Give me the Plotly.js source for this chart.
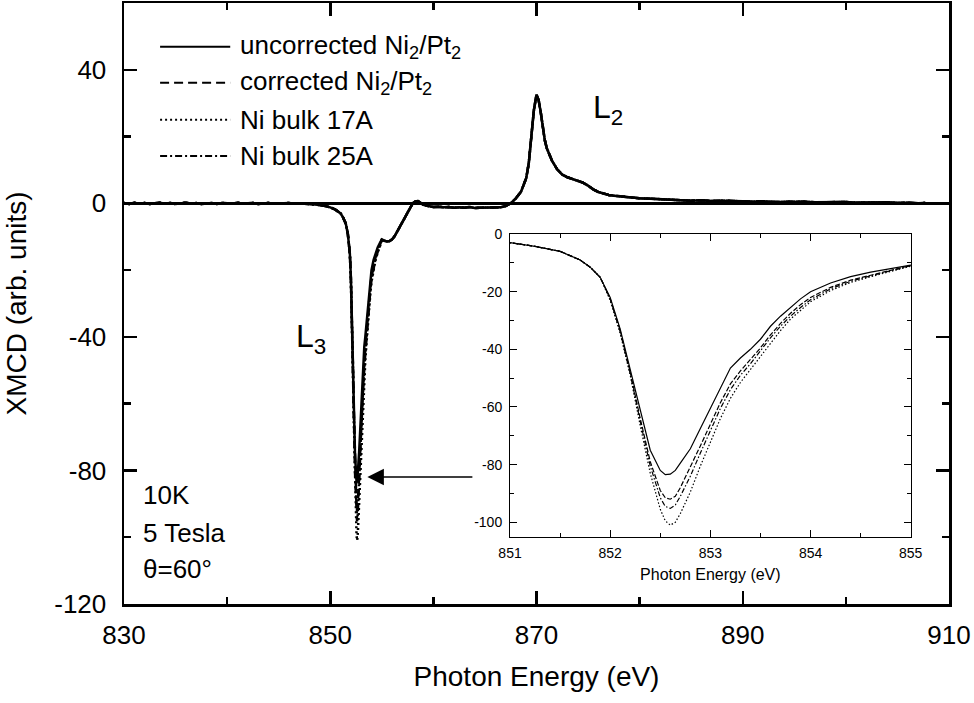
<!DOCTYPE html>
<html>
<head>
<meta charset="utf-8">
<script src="https://cdn.plot.ly/plotly-3.0.1.min.js"></script>
<style>
  html, body { margin: 0; padding: 0; background: #fff; }
  #chart { width: 974px; height: 703px; }
</style>
</head>
<body>
<div id="chart"></div>
<script>
// Ni L2,3 XMCD spectra (10 K, 5 T, theta = 60 deg)

// pre-edge region, common to all spectra
const energyPre = [830, 830.5, 831, 831.5, 832, 832.5, 833, 833.5, 834, 834.5, 835, 835.5,
  836, 836.5, 837, 837.5, 838, 838.5, 839, 839.5, 840, 840.5, 841, 841.5, 842, 842.5,
  843, 843.5, 844, 844.5, 845, 845.5, 846, 846.5, 847, 847.5, 848, 848.5, 849, 849.5,
  850, 850.5, 850.8];
const xmcdPre = [0.1, -0.2, 0.2, -0.1, 0.1, -0.2, 0.0, 0.2, -0.1, 0.1, -0.2, 0.0,
  0.2, -0.1, 0.1, -0.2, 0.0, 0.1, -0.2, 0.1, 0.0, -0.1, 0.2, -0.1, 0.0, 0.1,
  -0.2, 0.0, 0.1, -0.1, 0.0, -0.1, 0.1, -0.1, 0.0, -0.1, -0.2, -0.3, -0.5, -0.8,
  -1.2, -1.9, -2.5];

// L3 edge, where the four spectra differ
const energyL3 = [851.0, 851.25, 851.5, 851.7, 851.8, 851.9, 852.0, 852.1, 852.2, 852.3,
  852.4, 852.5, 852.55, 852.6, 852.65, 852.7, 852.8, 852.9, 853.0, 853.1, 853.2, 853.3,
  853.4, 853.5, 853.6, 853.7, 853.8, 853.9, 854.0, 854.2, 854.4, 854.6, 854.8, 855.0];
const uncorrectedL3 = [-3.0, -4.3, -6.0, -9.0, -11.5, -15.0, -22.0, -33.0, -47.0, -62.0,
  -75.0, -82.0, -83.5, -83.3, -82.0, -79.5, -74.5, -67.5, -60.5, -53.0, -46.5, -43.0,
  -40.0, -36.5, -32.0, -28.5, -25.5, -22.5, -20.0, -17.0, -14.8, -13.2, -12.0, -10.8];
const correctedL3 = [-3.0, -4.3, -6.0, -9.0, -11.5, -15.0, -22.5, -33.5, -48.0, -64.0,
  -79.0, -89.0, -91.5, -92.0, -91.0, -88.0, -81.0, -73.5, -66.0, -58.5, -52.0, -47.5,
  -43.5, -39.5, -35.0, -31.0, -27.5, -24.5, -22.0, -18.5, -16.0, -14.2, -12.6, -10.9];
const bulk17L3 = [-3.0, -4.3, -6.0, -9.0, -11.5, -15.0, -23.0, -34.5, -49.0, -66.5,
  -83.0, -95.5, -99.5, -101.0, -100.0, -97.0, -89.5, -80.5, -72.0, -64.0, -57.0, -51.5,
  -47.0, -42.5, -38.0, -33.5, -29.5, -26.5, -23.5, -19.6, -16.8, -14.8, -13.0, -11.2];
const bulk25L3 = [-3.0, -4.3, -6.0, -9.0, -11.5, -15.0, -22.5, -34.0, -48.5, -65.0,
  -80.5, -91.5, -94.5, -95.2, -94.0, -91.0, -84.0, -76.0, -68.0, -60.5, -54.0, -49.0,
  -45.0, -40.5, -36.0, -32.0, -28.5, -25.5, -22.8, -19.0, -16.4, -14.5, -12.8, -11.0];

// shoulder, L2 edge and post-edge, common to all spectra
const energyPost = [855.25, 855.5, 855.75, 856, 856.25, 856.5, 856.75, 857, 857.25, 857.5,
  857.75, 858, 858.25, 858.5, 858.75, 859, 859.5, 860, 860.5, 861, 861.5, 862, 862.5,
  863, 863.5, 864, 864.5, 865, 865.5, 866, 866.5, 867, 867.5, 868, 868.5, 869, 869.25,
  869.5, 869.75, 870, 870.2, 870.4, 870.6, 870.8, 871, 871.25, 871.5, 872, 872.5, 873,
  873.5, 874, 874.5, 875, 875.5, 876, 876.5, 877, 877.5, 878, 879, 880, 881, 882, 883,
  884, 885, 886, 887, 888, 889, 890, 891, 892, 893, 894, 895, 896, 897, 898, 899, 900,
  901, 902, 903, 904, 905, 906, 907, 907.7];
const xmcdPost = [-11.2, -11.4, -11.3, -10.8, -9.8, -8.5, -7.0, -5.6, -4.2, -2.8,
  -1.2, 0.0, 0.6, 0.7, 0.2, -0.4, -0.8, -1.1, -1.0, -1.2, -1.1, -1.3, -1.2,
  -1.3, -1.1, -1.4, -1.3, -1.3, -1.4, -1.3, -1.2, -0.8, 0.0, 1.5, 3.5, 7.5, 12.0,
  20.0, 28.0, 32.5, 31.0, 27.5, 22.5, 19.0, 16.5, 14.5, 12.8, 10.2, 8.6, 7.8,
  7.2, 6.7, 6.2, 5.3, 4.2, 3.4, 2.9, 2.5, 2.3, 2.1, 1.8, 1.5, 1.4, 1.2, 1.1,
  1.0, 0.8, 0.9, 0.7, 0.8, 0.6, 0.6, 0.5, 0.6, 0.4, 0.5, 0.4, 0.5, 0.3, 0.4, 0.3, 0.4,
  0.2, 0.3, 0.2, 0.3, 0.1, 0.2, 0.0, 0.1];

const seriesNames = ['uncorrected Ni<sub>2</sub>/Pt<sub>2</sub>', 'corrected Ni<sub>2</sub>/Pt<sub>2</sub>',
  'Ni bulk 17A', 'Ni bulk 25A'];
const seriesL3 = [uncorrectedL3, correctedL3, bulk17L3, bulk25L3];

// tick labels written with a plain hyphen for negatives
const mainYTicks = [-120, -80, -40, 0, 40];
const mainYLabels = ['-120', '-80', '-40', '0', '40'];
const insetYTicks = [-100, -80, -60, -40, -20, 0];
const insetYLabels = ['-100', '-80', '-60', '-40', '-20', '0'];

const FONT = 'Liberation Sans, Arial, Helvetica, sans-serif';
const mainDash = ['solid', '9px,5px', '2px,3px', '7px,3px,2px,3px'];
const insetDash = ['solid', '5px,2px', '1.5px,2px', '5px,2px,1.5px,2px'];
const legendDash = ['solid', '9px,5px', '2px,3px', '7px,3px,2px,3px'];

const energy = energyPre.concat(energyL3, energyPost);
const traces = [];
// draw the bulk spectra first so the uncorrected curve ends on top
const order = [2, 3, 1, 0];
order.forEach(function (i) {
  const y = xmcdPre.concat(seriesL3[i], xmcdPost);
  traces.push({
    x: energy, y: y, type: 'scatter', mode: 'lines', name: seriesNames[i],
    xaxis: 'x', yaxis: 'y', showlegend: false, hoverinfo: 'skip',
    line: { color: '#000', width: 2.5, dash: mainDash[i] }
  });
});
order.forEach(function (i) {
  const y = xmcdPre.concat(seriesL3[i], xmcdPost);
  traces.push({
    x: energy, y: y, type: 'scatter', mode: 'lines', name: seriesNames[i],
    xaxis: 'x2', yaxis: 'y2', showlegend: false, hoverinfo: 'skip',
    line: { color: '#000', width: 1.2, dash: insetDash[i] }
  });
});

// hand-made legend in the upper left corner
const legendRows = [46.9, 36.1, 25.0, 14.2];
const shapes = [];
const annotations = [];
seriesNames.forEach(function (name, i) {
  shapes.push({
    type: 'line', xref: 'x', yref: 'y', x0: 833.5, x1: 840.3,
    y0: legendRows[i], y1: legendRows[i],
    line: { color: '#000', width: 2, dash: legendDash[i] }
  });
  annotations.push({
    xref: 'x', yref: 'y', x: 841.1, y: legendRows[i], xanchor: 'left', yanchor: 'middle',
    text: name, showarrow: false, font: { family: FONT, size: 26, color: '#000' }
  });
});

const conditions = ['10K', '5 Tesla', '\u03b8=60\u00b0'];
const conditionRows = [-87.5, -98.6, -109.4];
conditions.forEach(function (t, i) {
  annotations.push({
    xref: 'x', yref: 'y', x: 831.6, y: conditionRows[i], xanchor: 'left', yanchor: 'middle',
    text: t, showarrow: false, font: { family: FONT, size: 26, color: '#000' }
  });
});

annotations.push({
  xref: 'x', yref: 'y', x: 846.5, y: -40.5, xanchor: 'left', yanchor: 'middle',
  text: 'L<sub>3</sub>', showarrow: false, font: { family: FONT, size: 32, color: '#000' }
});
annotations.push({
  xref: 'x', yref: 'y', x: 875.3, y: 28, xanchor: 'left', yanchor: 'middle',
  text: 'L<sub>2</sub>', showarrow: false, font: { family: FONT, size: 32, color: '#000' }
});
// arrow pointing from the inset to the L3 minimum
annotations.push({
  xref: 'x', yref: 'y', x: 853.6, y: -82, ax: 108, ay: 0, text: ' ',
  showarrow: true, arrowhead: 2, arrowsize: 2.2, arrowwidth: 1.5, arrowcolor: '#000'
});

const tickFont = { family: FONT, size: 26, color: '#000' };
const insetFont = { family: FONT, size: 14, color: '#000' };

const layout = {
  width: 974, height: 703,
  margin: { l: 124, r: 25, t: 3, b: 99 },
  paper_bgcolor: '#fff', plot_bgcolor: '#fff',
  showlegend: false,
  font: { family: FONT, color: '#000' },
  xaxis: {
    domain: [0, 1], range: [830, 910], tick0: 830, dtick: 20,
    ticks: 'inside', ticklen: 13, tickwidth: 2.5, tickcolor: '#000',
    minor: { dtick: 10, ticks: 'inside', ticklen: 7, tickwidth: 2.5, tickcolor: '#000' },
    showline: true, linewidth: 2.5, linecolor: '#000', mirror: 'ticks',
    showgrid: false, zeroline: false, tickfont: tickFont, ticklabelstandoff: 6,
    title: { text: 'Photon Energy (eV)', font: { family: FONT, size: 28, color: '#000' }, standoff: 18 }
  },
  yaxis: {
    domain: [0, 1], range: [-120, 60], tickmode: 'array',
    tickvals: mainYTicks, ticktext: mainYLabels,
    ticks: 'inside', ticklen: 13, tickwidth: 2.5, tickcolor: '#000',
    minor: { tickmode: 'linear', tick0: 0, dtick: 20, ticks: 'inside', ticklen: 7, tickwidth: 2.5, tickcolor: '#000' },
    showline: true, linewidth: 2.5, linecolor: '#000', mirror: 'ticks',
    showgrid: false, zeroline: true, zerolinecolor: '#000', zerolinewidth: 2.5,
    tickfont: tickFont, ticklabelstandoff: 10,
    title: { text: 'XMCD (arb. units)', font: { family: FONT, size: 28, color: '#000' }, standoff: 20 }
  },
  xaxis2: {
    domain: [0.4679, 0.9536], range: [851, 855], anchor: 'y2', dtick: 1,
    ticks: 'inside', ticklen: 7, tickwidth: 1, tickcolor: '#000',
    minor: { dtick: 0.5, ticks: 'inside', ticklen: 4, tickwidth: 1, tickcolor: '#000' },
    showline: true, linewidth: 1, linecolor: '#000', mirror: 'ticks',
    showgrid: false, zeroline: false, tickfont: insetFont, ticklabelstandoff: 4,
    title: { text: 'Photon Energy (eV)', font: { family: FONT, size: 16, color: '#000' }, standoff: 8 }
  },
  yaxis2: {
    domain: [0.112, 0.6156], range: [-105, 0], anchor: 'x2', tickmode: 'array',
    tickvals: insetYTicks, ticktext: insetYLabels,
    ticks: 'inside', ticklen: 7, tickwidth: 1, tickcolor: '#000',
    minor: { tickmode: 'linear', tick0: 0, dtick: 10, ticks: 'inside', ticklen: 4, tickwidth: 1, tickcolor: '#000' },
    showline: true, linewidth: 1, linecolor: '#000', mirror: 'ticks',
    showgrid: false, zeroline: false, tickfont: insetFont, ticklabelstandoff: 4
  },
  shapes: shapes,
  annotations: annotations
};

Plotly.newPlot('chart', traces, layout, { displayModeBar: false, staticPlot: true });
</script>
</body>
</html>
